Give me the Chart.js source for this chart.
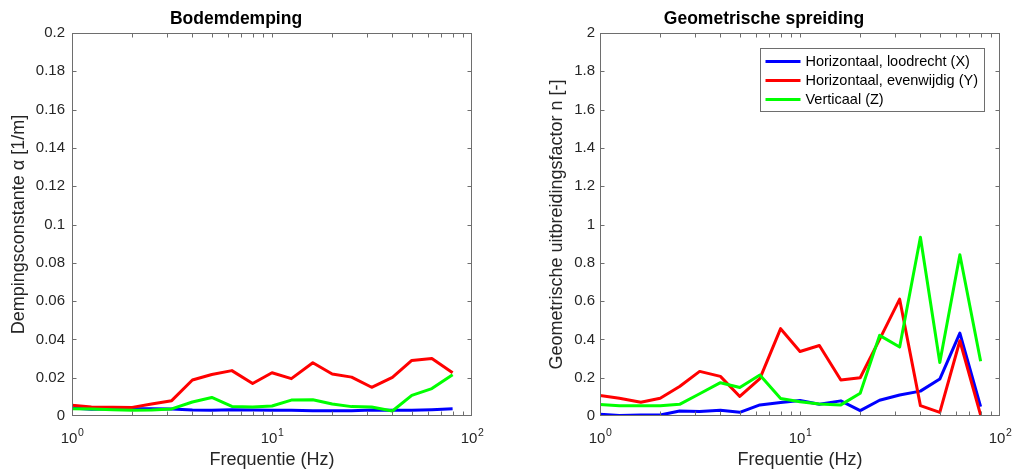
<!DOCTYPE html>
<html><head><meta charset="utf-8">
<script src="https://cdn.jsdelivr.net/npm/chart.js@4/dist/chart.umd.min.js"></script>
<style>
html,body{margin:0;padding:0;background:#fff;overflow:hidden;width:1019px;height:471px}
canvas{position:absolute;top:0}
#c1{left:0}
#c2{left:528px}
</style></head><body>
<canvas id="c1" width="544" height="471"></canvas>
<canvas id="c2" width="544" height="471"></canvas>
<script>
// ---- data ----
const frequencies = [1, 1.25, 1.6, 2, 2.5, 3.15, 4, 5, 6.3, 8, 10, 12.5, 16, 20, 25, 31.5, 40, 50, 63, 80];

const dampingX = [0.0042, 0.0035, 0.0038, 0.0038, 0.0038, 0.0037, 0.0031, 0.0030, 0.0033, 0.0031, 0.0030, 0.0030, 0.0028, 0.0028, 0.0028, 0.0031, 0.0030, 0.0030, 0.0033, 0.0038];
const dampingY = [0.0056, 0.0047, 0.0046, 0.0045, 0.0063, 0.0080, 0.0188, 0.0217, 0.0237, 0.0170, 0.0226, 0.0195, 0.0278, 0.0219, 0.0203, 0.0150, 0.0202, 0.0290, 0.0300, 0.0226];
const dampingZ = [0.0038, 0.0037, 0.0033, 0.0030, 0.0031, 0.0037, 0.0073, 0.0097, 0.0050, 0.0047, 0.0052, 0.0083, 0.0085, 0.0063, 0.0049, 0.0047, 0.0026, 0.0108, 0.0143, 0.0216];

const spreadX = [0.009, 0.002, 0.005, 0.005, 0.026, 0.023, 0.030, 0.019, 0.058, 0.070, 0.081, 0.061, 0.079, 0.028, 0.082, 0.110, 0.130, 0.193, 0.433, 0.049];
const spreadY = [0.107, 0.093, 0.072, 0.093, 0.154, 0.233, 0.207, 0.102, 0.195, 0.456, 0.337, 0.368, 0.188, 0.200, 0.400, 0.610, 0.054, 0.019, 0.393, 0.005];
const spreadZ = [0.060, 0.054, 0.054, 0.054, 0.061, 0.116, 0.174, 0.149, 0.214, 0.091, 0.074, 0.063, 0.058, 0.119, 0.421, 0.360, 0.933, 0.279, 0.842, 0.286];

const seriesLabels = ['Horizontaal, loodrecht (X)', 'Horizontaal, evenwijdig (Y)', 'Verticaal (Z)'];
const seriesColors = ['#0000ff', '#ff0000', '#00ff00'];

const xTickValues = [1, 2, 3, 4, 5, 6, 7, 8, 9, 10, 20, 30, 40, 50, 60, 70, 80, 90, 100];
const xTickBase = '10';
const xTickExponents = {1: '0', 10: '1', 100: '2'};
const dampingTicks = [0, 0.02, 0.04, 0.06, 0.08, 0.1, 0.12, 0.14, 0.16, 0.18, 0.2];
const spreadTicks = [0, 0.2, 0.4, 0.6, 0.8, 1, 1.2, 1.4, 1.6, 1.8, 2];

// ---- style ----
const FONT = '"Liberation Sans", Arial, Helvetica, sans-serif';
const TEXT = '#262626';
const AXIS = '#6e6e6e';

const frameTicks = {
  id: 'frameTicks',
  afterDatasetsDraw(chart) {
    const {ctx, chartArea: a, scales: {x, y}} = chart;
    const L = Math.round(a.left) + 0.5, R = Math.round(a.right) - 0.5;
    const T = Math.round(a.top) + 0.5, B = Math.round(a.bottom) - 0.5;
    ctx.save();
    ctx.strokeStyle = AXIS;
    ctx.lineWidth = 1;
    ctx.beginPath();
    const tl = 4;
    x.ticks.forEach(t => {
      const px = Math.round(x.getPixelForValue(t.value)) + 0.5;
      if (px <= L + 1 || px >= R - 1) return;
      ctx.moveTo(px, B); ctx.lineTo(px, B - tl);
      ctx.moveTo(px, T); ctx.lineTo(px, T + tl);
    });
    y.ticks.forEach(t => {
      const py = Math.round(y.getPixelForValue(t.value)) + 0.5;
      if (py <= T + 1 || py >= B - 1) return;
      ctx.moveTo(L, py); ctx.lineTo(L + tl, py);
      ctx.moveTo(R, py); ctx.lineTo(R - tl, py);
    });
    ctx.stroke();
    ctx.strokeRect(L, T, R - L, B - T);

    // x tick labels as 10 with raised exponent
    ctx.fillStyle = TEXT;
    ctx.textBaseline = 'alphabetic';
    ctx.textAlign = 'left';
    const baseFont = '15px ' + FONT, expFont = '10.5px ' + FONT;
    Object.keys(xTickExponents).forEach(k => {
      const px = x.getPixelForValue(Number(k));
      const ex = xTickExponents[k];
      ctx.font = baseFont;
      const w1 = ctx.measureText(xTickBase).width;
      ctx.font = expFont;
      const w2 = ctx.measureText(ex).width;
      const x0 = px - (w1 + w2) / 2;
      const base = a.bottom + 27;
      ctx.font = baseFont;
      ctx.fillText(xTickBase, x0, base);
      ctx.font = expFont;
      ctx.fillText(ex, x0 + w1 + 0.5, base - 7.5);
    });
    ctx.restore();
  }
};

const boxLegend = {
  id: 'boxLegend',
  afterDraw(chart) {
    const {ctx, chartArea: a} = chart;
    const ds = chart.data.datasets;
    ctx.save();
    ctx.font = '14.5px ' + FONT;
    const maxW = Math.max(...ds.map(d => ctx.measureText(d.label).width));
    const lineLen = 35, padL = 5, gap = 5, padR = 7, rowH = 19;
    const boxW = Math.round(padL + lineLen + gap + maxW + padR);
    const boxH = ds.length * rowH + 6;
    const bx = Math.round(a.right - 16 - boxW) + 0.5;
    const by = Math.round(a.top + 15) + 0.5;
    ctx.fillStyle = '#ffffff';
    ctx.fillRect(bx, by, boxW, boxH);
    ctx.strokeStyle = AXIS;
    ctx.lineWidth = 1;
    ctx.strokeRect(bx, by, boxW, boxH);
    ctx.textBaseline = 'middle';
    ctx.textAlign = 'left';
    ds.forEach((d, i) => {
      const cy = by + 13 + i * rowH;
      ctx.strokeStyle = d.borderColor;
      ctx.lineWidth = 3;
      ctx.beginPath();
      ctx.moveTo(bx + padL, cy);
      ctx.lineTo(bx + padL + lineLen, cy);
      ctx.stroke();
      ctx.fillStyle = '#000000';
      ctx.fillText(d.label, bx + padL + lineLen + gap, cy + 0.5);
    });
    ctx.restore();
  }
};

function makeChart(id, title, yTitle, yTicks, yMax, series, withLegend, yTitlePad, yTickPad) {
  const datasets = series.map((vals, i) => ({
    label: seriesLabels[i],
    data: frequencies.map((f, j) => ({x: f, y: vals[j]})),
    borderColor: seriesColors[i],
    backgroundColor: seriesColors[i],
    borderWidth: 3,
    borderJoinStyle: 'round',
    pointRadius: 0,
    tension: 0,
    fill: false,
    order: 3 - i
  }));
  return new Chart(document.getElementById(id), {
    type: 'line',
    data: {datasets},
    plugins: withLegend ? [frameTicks, boxLegend] : [frameTicks],
    options: {
      responsive: false,
      animation: false,
      events: [],
      layout: {padding: {left: 0, right: 72, top: 0, bottom: 0}},
      plugins: {
        legend: {display: false},
        tooltip: {enabled: false},
        title: {
          display: true, text: title, color: '#000000',
          font: {family: FONT, size: 17.5, weight: 'bold', lineHeight: 1.2},
          padding: {top: 9, bottom: 3}
        }
      },
      scales: {
        x: {
          type: 'logarithmic', min: 1, max: 100,
          grid: {display: false, drawTicks: false, tickLength: 0},
          border: {display: false},
          afterBuildTicks: s => { s.ticks = xTickValues.map(v => ({value: v})); },
          afterFit: s => { s.height = 55; s.paddingLeft = 0; s.paddingRight = 0; },
          ticks: {display: false, autoSkip: false, maxRotation: 0, minRotation: 0},
          title: {
            display: true, text: 'Frequentie (Hz)', color: TEXT,
            font: {family: FONT, size: 18, lineHeight: 1.2},
            padding: {top: 0, bottom: 0}
          }
        },
        y: {
          type: 'linear', min: 0, max: yMax,
          grid: {display: false, drawTicks: false, tickLength: 0},
          border: {display: false},
          afterBuildTicks: s => { s.ticks = yTicks.map(v => ({value: v})); },
          afterFit: s => { s.width = 72; s.paddingTop = 0; s.paddingBottom = 0; },
          ticks: {
            padding: yTickPad, color: TEXT, font: {family: FONT, size: 15},
            callback: v => String(parseFloat(Number(v).toFixed(3)))
          },
          title: {
            display: true, text: yTitle, color: TEXT,
            font: {family: FONT, size: 18, lineHeight: 1.2},
            padding: {top: yTitlePad, bottom: 0}
          }
        }
      }
    }
  });
}

makeChart('c1', 'Bodemdemping', 'Dempingsconstante \u03b1 [1/m]', dampingTicks, 0.2,
  [dampingX, dampingY, dampingZ], false, 8, 7);
makeChart('c2', 'Geometrische spreiding', 'Geometrische uitbreidingsfactor n [-]', spreadTicks, 2,
  [spreadX, spreadY, spreadZ], true, 18, 5);
</script>
</body></html>
